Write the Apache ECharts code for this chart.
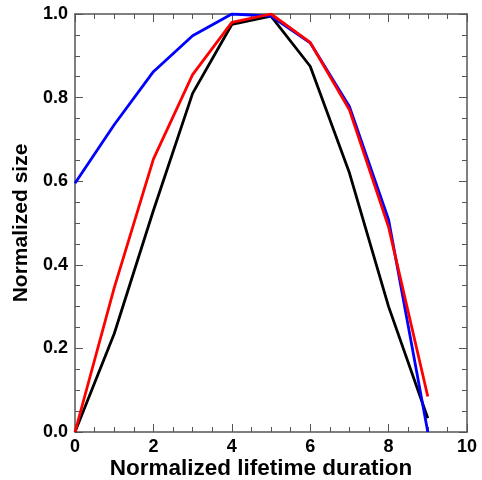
<!DOCTYPE html>
<html>
<head>
<meta charset="utf-8">
<script src="https://cdn.jsdelivr.net/npm/echarts@6/dist/echarts.min.js"></script>
<style>
  html, body { margin: 0; padding: 0; background: #fff; }
  #graph { width: 482px; height: 480px; }
</style>
</head>
<body>
<div id="graph"></div>
<script>
// lifetime steps (x)
var steps = [0, 1, 2, 3, 4, 5, 6, 7, 8, 9];
var blackSize = [0.0, 0.235, 0.53, 0.81, 0.975, 0.995, 0.875, 0.62, 0.30, 0.033];
var blueSize  = [0.595, 0.735, 0.862, 0.948, 1.0, 0.995, 0.931, 0.779, 0.508, 0.0];
var redSize   = [0.0, 0.345, 0.653, 0.855, 0.98, 1.0, 0.932, 0.771, 0.49, 0.085];

function pairs(ys) {
  return steps.map(function (x, i) { return [x, ys[i]]; });
}

var tickFont = { fontFamily: 'Liberation Sans', fontWeight: 'bold', fontSize: 18, color: '#000' };
var titleFont = { fontFamily: 'Liberation Sans', fontWeight: 'bold', fontSize: 21, color: '#000' };
var lineCol = '#555';

function frameAxis(extra) {
  return Object.assign({
    axisLine: { show: true, onZero: false, lineStyle: { color: lineCol, width: 1.5 } },
    axisTick: { show: true, inside: true, length: 8, lineStyle: { color: lineCol } },
    minorTick: { show: true, splitNumber: 4, length: 5, lineStyle: { color: lineCol } },
    splitLine: { show: false }
  }, extra);
}

var myChart = echarts.init(document.getElementById('graph'));
myChart.setOption({
  backgroundColor: '#fff',
  animation: false,
  grid: { left: 75, right: 15, top: 14, bottom: 48, containLabel: false, outerBoundsMode: 'none' },
  xAxis: [
    frameAxis({
      type: 'value', min: 0, max: 10, interval: 2, position: 'bottom',
      name: 'Normalized lifetime duration',
      nameLocation: 'middle', nameGap: 25, nameMoveOverlap: false,
      nameTextStyle: Object.assign({}, titleFont, { fontSize: 22.5, padding: [0, 20, 0, 0] }),
      axisLabel: Object.assign({ margin: 6 }, tickFont)
    }),
    frameAxis({
      type: 'value', min: 0, max: 10, interval: 2, position: 'top',
      axisLabel: { show: false }
    })
  ],
  yAxis: [
    frameAxis({
      type: 'value', min: 0, max: 1, interval: 0.2, position: 'left',
      name: 'Normalized size',
      nameLocation: 'middle', nameGap: 43, nameRotate: 90,
      nameTextStyle: titleFont,
      axisLabel: Object.assign({ margin: 7, formatter: function (v) { return v.toFixed(1); } }, tickFont)
    }),
    frameAxis({
      type: 'value', min: 0, max: 1, interval: 0.2, position: 'right',
      axisLabel: { show: false }
    })
  ],
  series: [
    {
      name: 'black', type: 'line', data: pairs(blackSize),
      showSymbol: false, lineStyle: { color: '#000', width: 2.8 }, z: 3
    },
    {
      name: 'blue', type: 'line', data: pairs(blueSize),
      showSymbol: false, lineStyle: { color: '#0000ff', width: 2.8 }, z: 4
    },
    {
      name: 'red', type: 'line', data: pairs(redSize),
      showSymbol: false, lineStyle: { color: '#ff0000', width: 2.8 }, z: 5
    }
  ]
});
</script>
</body>
</html>
